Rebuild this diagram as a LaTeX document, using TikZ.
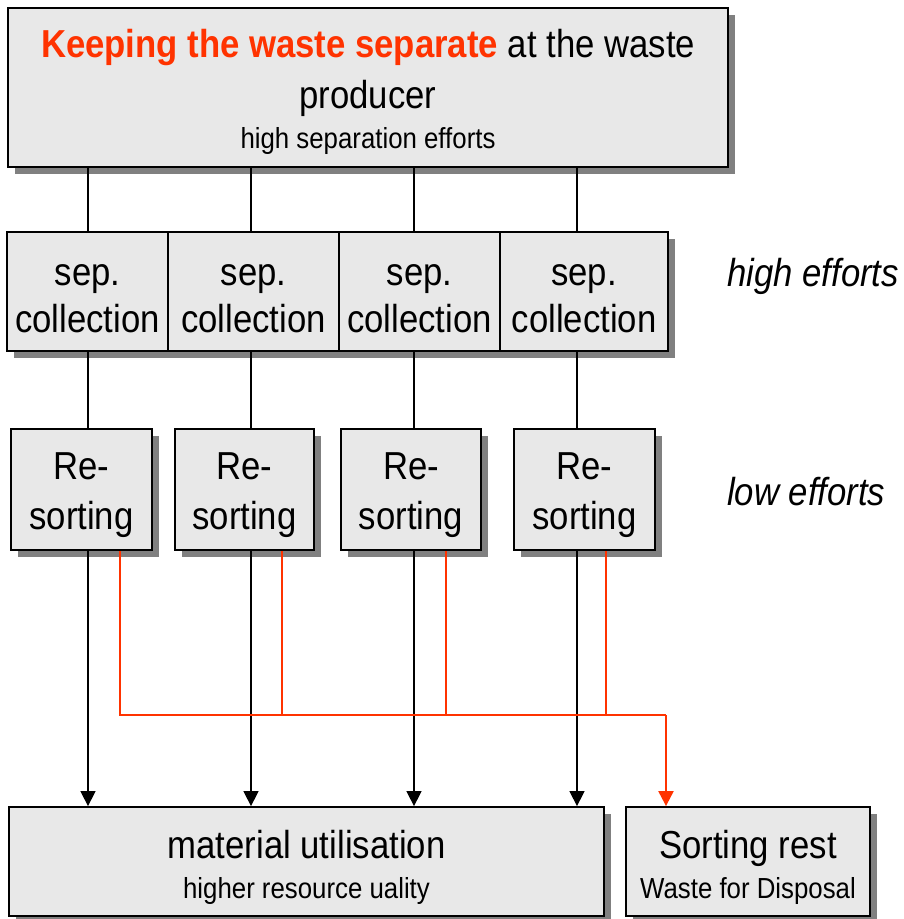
\documentclass[tikz,border=0pt]{standalone}
\usepackage{fontspec}
\setmainfont{Liberation Sans}[FakeStretch=0.89]
\usetikzlibrary{shadows,arrows.meta}
\definecolor{wred}{RGB}{255,51,0}
\definecolor{boxfill}{RGB}{232,232,232}
\definecolor{shadowgray}{RGB}{128,128,128}
\newcommand\hstrut[1]{\rule{0pt}{#1}}
\newcommand\dstrut[1]{\rule[-#1]{0pt}{#1}}
\begin{document}
\begin{tikzpicture}[x=1pt,y=-1pt,
  box/.style={draw=black, line width=1.8pt, fill=boxfill, rectangle, inner sep=0pt, align=center,
    drop shadow={fill=shadowgray, opacity=1, shadow xshift=7pt, shadow yshift=-7pt}},
  big/.style={font=\fontsize{39}{50}\selectfont},
  conn/.style={line width=1.4pt, draw=black},
  redconn/.style={line width=1.6pt, draw=wred},
  tip/.style={-{Triangle[length=15pt,width=15pt]}},
  side/.style={anchor=base west, inner sep=0pt, font=\fontsize{39}{42}\selectfont\itshape}]
\useasboundingbox (0,0) rectangle (904,919);

% x positions of the connectors
\coordinate (c1) at (88,0);
\coordinate (c2) at (251,0);
\coordinate (c3) at (414,0);
\coordinate (c4) at (577,0);
\coordinate (d1) at (120,0);
\coordinate (d2) at (282,0);
\coordinate (d3) at (446,0);
\coordinate (d4) at (606,0);
\coordinate (j) at (666,715);

% top box
\node[box, font=\fontsize{39}{51}\selectfont, minimum width=720pt, minimum height=159pt] (top) at (368,87.5)
  {\hstrut{39.5pt}{\color{wred}\bfseries Keeping the waste separate} at the waste\\
   producer\\[-11pt]
   {\fontsize{29}{30}\selectfont high separation efforts\dstrut{9.5pt}}};

% separate collection boxes
\node[box, font=\fontsize{39}{47}\selectfont, minimum width=161pt, minimum height=119pt] (s1) at (87.5,291.5) {\hstrut{43.5pt}sep.\\collection\dstrut{9.5pt}};
\node[box, font=\fontsize{39}{47}\selectfont, minimum width=171pt, minimum height=119pt] (s2) at (253.5,291.5) {\hstrut{43.5pt}sep.\\collection\dstrut{9.5pt}};
\node[box, font=\fontsize{39}{47}\selectfont, minimum width=161pt, minimum height=119pt] (s3) at (419.5,291.5) {\hstrut{43.5pt}sep.\\collection\dstrut{9.5pt}};
\node[box, font=\fontsize{39}{47}\selectfont, minimum width=168pt, minimum height=119pt] (s4) at (584,291.5) {\hstrut{43.5pt}sep.\\collection\dstrut{9.5pt}};

% re-sorting boxes
\node[box, big, minimum width=141pt, minimum height=121pt] (r1) at (81.5,489.5) {\hstrut{39.5pt}Re-\\sorting\dstrut{10.5pt}};
\node[box, big, minimum width=139pt, minimum height=121pt] (r2) at (244.5,489.5) {\hstrut{39.5pt}Re-\\sorting\dstrut{10.5pt}};
\node[box, big, minimum width=140pt, minimum height=121pt] (r3) at (411,489.5) {\hstrut{39.5pt}Re-\\sorting\dstrut{10.5pt}};
\node[box, big, minimum width=141pt, minimum height=121pt] (r4) at (584.5,489.5) {\hstrut{39.5pt}Re-\\sorting\dstrut{10.5pt}};

% bottom boxes
\node[box, font=\fontsize{39}{40}\selectfont, minimum width=595pt, minimum height=109pt] (mat) at (306.5,861.5)
  {\hstrut{41.5pt}material utilisation\\
   {\fontsize{29}{30}\selectfont higher resource uality\dstrut{8.5pt}}};
\node[box, font=\fontsize{39}{40}\selectfont, minimum width=244pt, minimum height=109pt] (rest) at (748,861.5)
  {\hstrut{41.5pt}Sorting rest\\
   {\fontsize{29}{30}\selectfont Waste for Disposal\dstrut{8.5pt}}};

% side labels
\node[side] (hi) at (727,286) {high efforts};
\node[side] (lo) at (727,505) {low efforts};

% connectors top -> sep collection
\foreach \c/\s in {c1/s1, c2/s2, c3/s3, c4/s4}
  \draw[conn] (top.south -| \c) -- (\s.north -| \c);
% sep collection -> re-sorting
\foreach \c/\s/\r in {c1/s1/r1, c2/s2/r2, c3/s3/r3, c4/s4/r4}
  \draw[conn] (\s.south -| \c) -- (\r.north -| \c);
% re-sorting -> material utilisation
\foreach \c/\r in {c1/r1, c2/r2, c3/r3, c4/r4}
  \draw[conn, tip] (\r.south -| \c) -- (mat.north -| \c);

% red rest lines
\draw[redconn] (r1.south -| d1) |- (j);
\foreach \d/\r in {d2/r2, d3/r3, d4/r4}
  \draw[redconn] (\r.south -| \d) -- (\d |- j);
\draw[redconn, line width=2pt, tip, fill=wred] (j) -- (rest.north -| j);
\end{tikzpicture}
\end{document}
